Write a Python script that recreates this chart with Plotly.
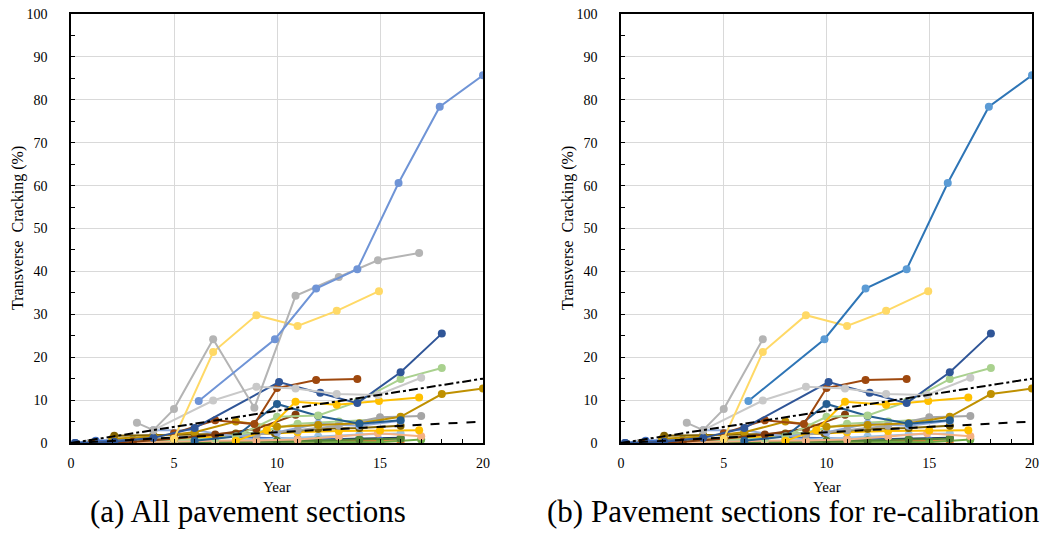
import plotly.graph_objects as go

# ---------------- data ----------------
big_blue_x = [6.2, 9.9, 11.9, 13.9, 15.9, 17.9, 20.0]
big_blue_y = [9.8, 24.2, 36.0, 40.5, 60.6, 78.4, 85.7]

gray_x = [3.2, 4.0, 5.0, 6.9, 8.9, 10.9, 13.0, 14.9, 16.9]
gray_y = [4.7, 3.0, 7.9, 24.2, 8.2, 34.3, 38.7, 42.6, 44.3]

lgray_x = [4.0, 6.9, 9.0, 10.9, 12.9, 14.9, 17.0]
lgray_y = [3.0, 9.9, 13.1, 12.7, 11.4, 11.2, 15.2]

yellow_x = [5.0, 6.9, 9.0, 11.0, 12.9, 14.95]
yellow_y = [1.0, 21.2, 29.8, 27.3, 30.8, 35.4]

dblue_x = [0.2, 2.1, 4.0, 6.0, 10.1, 12.1, 13.9, 16.0, 18.0]
dblue_y = [0.0, 0.3, 1.2, 3.5, 14.2, 11.7, 9.3, 16.5, 25.5]

brownA_x = [5.0, 7.0, 8.9, 10.0, 11.9, 13.9]
brownA_y = [2.3, 5.3, 4.4, 12.8, 14.7, 14.9]

brownB_x = [1.0, 3.0, 5.0, 7.0, 9.0, 10.9]
brownB_y = [0.0, 0.3, 1.0, 2.0, 3.3, 6.6]

lgreen_x = [8.0, 10.0, 12.0, 13.9, 16.0, 18.0]
lgreen_y = [1.5, 6.1, 6.4, 9.6, 14.9, 17.5]

mblue_x = [6.0, 8.0, 10.0, 12.0, 14.0, 16.0]
mblue_y = [0.5, 1.5, 9.1, 6.3, 4.5, 5.3]

gold_x = [2.0, 4.0, 6.0, 8.0, 10.0, 12.0, 14.0, 16.0, 18.0, 20.0]
gold_y = [1.0, 1.5, 2.5, 5.0, 3.8, 4.2, 4.6, 6.1, 11.4, 12.7]

byellow_x = [8.0, 9.5, 10.9, 12.9, 14.95, 16.9]
byellow_y = [0.5, 3.0, 9.6, 8.9, 9.8, 10.6]

gray2_x = [9.0, 11.0, 13.0, 15.0, 17.0]
gray2_y = [2.0, 3.0, 4.0, 6.0, 6.3]

lblue_x = [4.0, 6.0, 8.0, 10.0, 12.0, 14.0, 16.0]
lblue_y = [3.0, 3.0, 1.5, 2.5, 4.5, 4.0, 5.2]

byellow2_x = [1.0, 3.0, 5.0, 7.0, 9.0, 11.0, 13.0, 15.0, 16.9]
byellow2_y = [0.0, 0.5, 1.0, 1.5, 2.0, 2.5, 2.8, 2.9, 3.0]

salmon_x = [1.0, 3.0, 5.0, 7.0, 9.0, 11.0, 13.0, 14.9, 17.0]
salmon_y = [0.0, 0.2, 0.3, 0.5, 0.6, 0.8, 1.5, 2.3, 1.6]

green_x = [1.0, 3.0, 5.0, 7.0, 9.0, 11.0, 13.0, 15.0, 17.0]
green_y = [0.0, 0.1, 0.2, 0.2, 0.3, 0.3, 0.3, 0.2, 0.8]

dgreen_x = [2.0, 4.0, 6.0, 8.0, 10.0, 12.0, 14.0, 16.0]
dgreen_y = [0.0, 0.1, 0.2, 0.3, 0.5, 0.6, 0.8, 1.0]

orange_x = [0.9, 3.0, 5.0, 8.0, 10.0, 12.0, 14.0, 16.0]
orange_y = [0.0, 0.1, 0.1, 0.2, 0.2, 0.3, 0.5, 0.4]

dgray_x = [1.0, 3.0, 5.0, 7.0, 9.0, 11.0]
dgray_y = [0.0, 0.0, 0.1, 0.1, 0.2, 0.3]

navy_x = [0.2, 2.1, 4.0, 6.0, 8.0, 10.0, 12.0, 14.0, 16.0]
navy_y = [0.0, 0.0, 0.1, 0.2, 0.3, 0.5, 0.8, 1.0, 1.2]

olive_x = [2.1, 4.0, 6.0, 8.0, 9.9, 12.0, 14.0, 16.0]
olive_y = [1.7, 1.8, 2.0, 2.2, 2.3, 3.3, 3.5, 4.0]

lblue2_x = [0.9, 2.0, 4.0, 6.0, 8.0, 10.0, 12.0, 14.0, 16.0]
lblue2_y = [0.0, 0.2, 0.3, 0.5, 0.6, 1.0, 1.5, 2.0, 2.2]

blue_x = [0.2, 1.2, 3.0, 5.0, 7.0, 9.0, 11.0, 13.0, 15.0]
blue_y = [0.0, 0.5, 0.8, 1.2, 1.5, 1.2, 1.0, 0.8, 0.6]

lgreen2_x = [3.0, 5.0, 7.0, 9.0, 11.0, 13.0, 15.0]
lgreen2_y = [0.5, 0.8, 1.0, 2.5, 4.5, 5.0, 5.5]

trend_x = [0, 20]
upper_y = [0, 15]
lower_y = [0, 5]

x_ticks = [0, 5, 10, 15, 20]
y_ticks = [0, 10, 20, 30, 40, 50, 60, 70, 80, 90, 100]

series = [
    ("navy", navy_x, navy_y, "#203864"),
    ("blue", blue_x, blue_y, "#4472C4"),
    ("orange", orange_x, orange_y, "#ED7D31"),
    ("dgray", dgray_x, dgray_y, "#595959"),
    ("lblue2", lblue2_x, lblue2_y, "#9DC3E6"),
    ("green", green_x, green_y, "#70AD47"),
    ("dgreen", dgreen_x, dgreen_y, "#548235"),
    ("salmon", salmon_x, salmon_y, "#F4B183"),
    ("byellow2", byellow2_x, byellow2_y, "#FFC000"),
    ("olive", olive_x, olive_y, "#7F6000"),
    ("lgreen2", lgreen2_x, lgreen2_y, "#A9D18E"),
    ("lblue", lblue_x, lblue_y, "#8FAADC"),
    ("gray2", gray2_x, gray2_y, "#A5A5A5"),
    ("gold", gold_x, gold_y, "#BF9000"),
    ("brownB", brownB_x, brownB_y, "#843C0C"),
    ("mblue", mblue_x, mblue_y, "#255E91"),
    ("lgreen", lgreen_x, lgreen_y, "#A9D18E"),
    ("byellow", byellow_x, byellow_y, "#FFC000"),
    ("brownA", brownA_x, brownA_y, "#9E480E"),
    ("dblue", dblue_x, dblue_y, "#2F5597"),
    ("lgray", lgray_x, lgray_y, "#C9C9C9"),
    ("yellow", yellow_x, yellow_y, "#FFD966"),
    ("gray", gray_x, gray_y, "#B4B4B4"),
    ("bigblue", big_blue_x, big_blue_y, "#6F94D6"),
]

right_overrides = {
    "gray": (gray_x[:4], gray_y[:4], "#B4B4B4"),
    "bigblue": (big_blue_x, big_blue_y, "#2E75B6"),
}

W, H = 1046, 554
FONT = "Liberation Serif"

fig = go.Figure()

def add_panel(xa, ya, right):
    for name, xs, ys, col in series:
        if right and name in right_overrides:
            xs, ys, col = right_overrides[name]
        mcol = "#5B9BD5" if (right and name == "bigblue") else col
        fig.add_trace(go.Scatter(
            x=xs, y=ys, mode="lines+markers", xaxis=xa, yaxis=ya,
            line=dict(color=col, width=2),
            marker=dict(color=mcol, size=8),
            showlegend=False, hoverinfo="skip"))
    fig.add_trace(go.Scatter(x=trend_x, y=upper_y, mode="lines", xaxis=xa, yaxis=ya,
                             line=dict(color="black", width=2, dash="dashdot"),
                             showlegend=False, hoverinfo="skip"))
    fig.add_trace(go.Scatter(x=trend_x, y=lower_y, mode="lines", xaxis=xa, yaxis=ya,
                             line=dict(color="black", width=2, dash="dash"),
                             showlegend=False, hoverinfo="skip"))

add_panel("x", "y", False)
add_panel("x2", "y2", True)

ydom = [1 - 443 / H, 1 - 14 / H]
xdom1 = [71 / W, 483 / W]
xdom2 = [621 / W, 1032 / W]

def xaxis(dom, anchor):
    return dict(domain=dom, anchor=anchor, range=[0, 20], tickvals=x_ticks,
                showgrid=True, gridcolor="#D9D9D9", gridwidth=1,
                showline=True, linecolor="black", linewidth=1.5, mirror=True,
                ticks="inside", ticklen=4, tickcolor="black",
                minor=dict(dtick=1, ticks="inside", ticklen=4, tickcolor="black", showgrid=False),
                tickfont=dict(family=FONT, size=14, color="black"),
                ticklabelstandoff=6, zeroline=False, fixedrange=True, automargin=False)

def yaxis(anchor):
    return dict(domain=ydom, anchor=anchor, range=[0, 100], tickvals=y_ticks,
                showgrid=True, gridcolor="#D9D9D9", gridwidth=1,
                showline=True, linecolor="black", linewidth=1.5, mirror=True,
                ticks="inside", ticklen=4, tickcolor="black",
                minor=dict(dtick=5, ticks="inside", ticklen=4, tickcolor="black", showgrid=False),
                tickfont=dict(family=FONT, size=14, color="black"),
                ticklabelstandoff=19, zeroline=False, fixedrange=True, automargin=False)

annotations = []
for xc, ytx in [((71 + 483) / 2, 18), ((621 + 1032) / 2, 568)]:
    annotations.append(dict(text="Year", x=xc / W, y=1 - 487 / H, xref="paper", yref="paper",
                            xanchor="center", yanchor="middle", showarrow=False,
                            font=dict(family=FONT, size=15, color="black")))
    annotations.append(dict(text="Transverse  Cracking (%)", x=ytx / W, y=1 - 228 / H,
                            xref="paper", yref="paper", textangle=-90, showarrow=False,
                            xanchor="center", yanchor="middle",
                            font=dict(family=FONT, size=16, color="black")))
annotations.append(dict(text="(a) All pavement sections", x=248 / W, y=1 - 511 / H,
                        xref="paper", yref="paper", xanchor="center", yanchor="middle",
                        showarrow=False, font=dict(family=FONT, size=31, color="black")))
annotations.append(dict(text="(b) Pavement sections for re-calibration", x=545 / W, y=1 - 511 / H,
                        xref="paper", yref="paper", xanchor="left", yanchor="middle",
                        showarrow=False, font=dict(family=FONT, size=31, color="black")))

fig.update_layout(
    width=W, height=H, margin=dict(l=0, r=0, t=0, b=0, pad=0, autoexpand=False),
    paper_bgcolor="white", plot_bgcolor="white",
    font=dict(family=FONT, color="black"),
    xaxis=xaxis(xdom1, "y"), yaxis=yaxis("x"),
    xaxis2=xaxis(xdom2, "y2"), yaxis2=yaxis("x2"),
    annotations=annotations, showlegend=False,
)

fig.write_html("out.html")
